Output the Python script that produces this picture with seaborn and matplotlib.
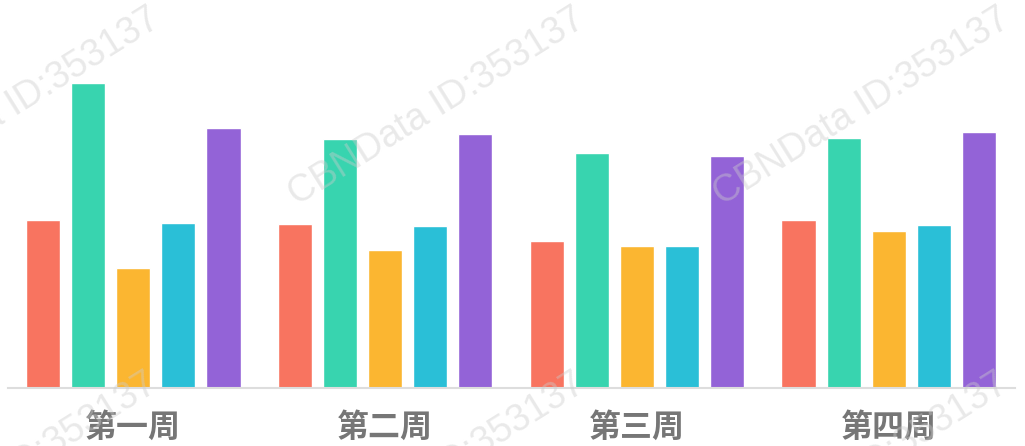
import pandas as pd
import matplotlib.pyplot as plt
import seaborn as sns

# data (bar heights, baseline = 0)
weeks = ['第一周', '第二周', '第三周', '第四周']
series = ['系列1', '系列2', '系列3', '系列4', '系列5']
s1 = [168, 164, 147, 168]
s2 = [305, 249, 235, 250]
s3 = [120, 138, 142, 157]
s4 = [165, 162, 142, 163]
s5 = [260, 254, 232, 256]
colors = ['#F87460', '#38D4AF', '#FBB631', '#2ABFD7', '#9363D7']

df = pd.DataFrame({'week': weeks, '系列1': s1, '系列2': s2, '系列3': s3, '系列4': s4, '系列5': s5})
df_long = pd.melt(df, id_vars=['week'], value_vars=series, var_name='series', value_name='value')

sns.set_style('white')
plt.rcParams['font.family'] = ['Noto Sans CJK SC', 'DejaVu Sans']

fig = plt.figure(figsize=(10.25, 4.46), dpi=100)
ax = fig.add_axes([7.5 / 1025, 58 / 446, 1007 / 1025, 388 / 446])

sns.barplot(data=df_long, x='week', y='value', hue='series', palette=colors,
            width=0.895, gap=0.245, legend=False, ax=ax, saturation=1)

ax.set_ylim(0, 388)
ax.set_xlim(-0.5, 3.5)
ax.set_xlabel('')
ax.set_ylabel('')
ax.set_yticks([])
for s in ['top', 'right', 'left']:
    ax.spines[s].set_visible(False)
ax.spines['bottom'].set_color('#dddddd')
ax.spines['bottom'].set_linewidth(1.5)
ax.tick_params(axis='x', length=0, pad=17, labelsize=23, labelcolor='#767676')
for lbl in ax.get_xticklabels():
    lbl.set_fontweight('bold')

# watermark
wm = 'CBNData ID:353137'
for cx, cy in [(12, 107), (437, 107), (862, 107), (9, 472), (437, 472), (860, 472)]:
    fig.text(cx / 1025, 1 - cy / 446, wm, rotation=32, ha='center', va='center',
             rotation_mode='anchor', fontsize=27, family='Liberation Sans',
             color='#cccccc', alpha=0.42, zorder=10)

plt.savefig('out.png', dpi=100)
